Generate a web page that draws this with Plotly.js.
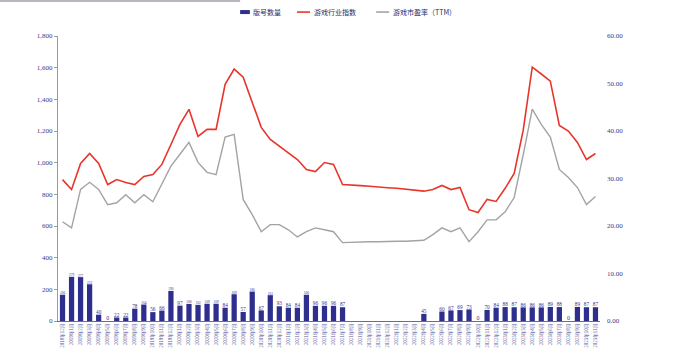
<!DOCTYPE html>
<html>
<head>
<meta charset="utf-8">
<script src="https://cdn.plot.ly/plotly-3.0.1.min.js"></script>
<style>
  html, body { margin: 0; padding: 0; background: #ffffff; }
  #chart { width: 677px; height: 351px; }
</style>
</head>
<body>
<div id="chart"></div>
<script>
// Monthly categories, 2018年12月 … 2023年11月
const months = [
  "2018年12月",
  "2019年1月","2019年2月","2019年3月","2019年4月","2019年5月","2019年6月",
  "2019年7月","2019年8月","2019年9月","2019年10月","2019年11月","2019年12月",
  "2020年1月","2020年2月","2020年3月","2020年4月","2020年5月","2020年6月",
  "2020年7月","2020年8月","2020年9月","2020年10月","2020年11月","2020年12月",
  "2021年1月","2021年2月","2021年3月","2021年4月","2021年5月","2021年6月",
  "2021年7月","2021年8月","2021年9月","2021年10月","2021年11月","2021年12月",
  "2022年1月","2022年2月","2022年3月","2022年4月","2022年5月","2022年6月",
  "2022年7月","2022年8月","2022年9月","2022年10月","2022年11月","2022年12月",
  "2023年1月","2023年2月","2023年3月","2023年4月","2023年5月","2023年6月",
  "2023年7月","2023年8月","2023年9月","2023年10月","2023年11月"
];

// 版号数量 (left axis); null = no approvals published that month
const licenses = [
  166,
  279, 277, 232, 40, 0, 22,
  22, 78, 104, 56, 66, 190,
  97, 108, 102, 109, 109, 84,
  169, 57, 186, 67, 163, 93,
  84, 84, 166, 96, 96, 96,
  87, null, null, null, null, null,
  null, null, null, 45, null, 60,
  67, 69, 73, 0, 70, 84,
  88, 87, 86, 86, 86, 89,
  88, 0, 89, 87, 87
];

// 游戏行业指数 (left axis)
const gameIndex = [
  893,
  830, 995, 1058, 995, 862, 893,
  875, 862, 913, 925, 989, 1115,
  1242, 1337, 1166, 1210, 1210, 1495,
  1591, 1540, 1380, 1223, 1147, 1103,
  1065, 1020, 957, 944, 1001, 989,
  862, 860, 855, 851, 845, 842,
  838, 832, 826, 820, 830, 856,
  830, 843, 703, 685, 768, 755,
  838, 932, 1205, 1603, 1560, 1515,
  1235, 1200, 1128, 1020, 1058
];

// 游戏市盈率（TTM） (right axis)
const peTTM = [
  20.9,
  19.6, 27.7, 29.2, 27.7, 24.5, 24.9,
  26.6, 24.9, 26.6, 25.1, 28.7, 32.6,
  35.1, 37.6, 33.4, 31.3, 30.8, 38.7,
  39.3, 25.6, 22.4, 18.8, 20.3, 20.3,
  19.2, 17.7, 18.8, 19.6, 19.2, 18.8,
  16.5, 16.6, 16.7, 16.7, 16.7, 16.8,
  16.8, 16.8, 16.9, 17.0, 18.2, 19.6,
  18.8, 19.6, 16.7, 18.8, 21.3, 21.3,
  23.0, 26.0, 35.0, 44.6, 41.4, 38.7,
  31.9, 30.2, 28.1, 24.5, 26.2
];

const seriesNames = ["版号数量", "游戏行业指数", "游戏市盈率（TTM）"];
const seriesColors = ["#2e2e8e", "#e8352b", "#a3a3a3"];

const navy = "#34348c";
const tickFont = { family: "Liberation Serif, DejaVu Serif, serif", size: 7, color: "#3a3a8c" };

const traces = [
  {
    type: "bar",
    name: seriesNames[0],
    x: months,
    y: licenses,
    marker: { color: seriesColors[0] },
    text: licenses.map(v => v === null ? "" : String(v)),
    textposition: "outside",
    textfont: { family: "Liberation Serif, serif", size: 6, color: navy },
    cliponaxis: false,
    yaxis: "y"
  },
  {
    type: "scatter",
    mode: "lines",
    name: seriesNames[1],
    x: months,
    y: gameIndex,
    line: { color: seriesColors[1], width: 1.6 },
    yaxis: "y"
  },
  {
    type: "scatter",
    mode: "lines",
    name: seriesNames[2],
    x: months,
    y: peTTM,
    line: { color: seriesColors[2], width: 1.4 },
    yaxis: "y2"
  }
];

// Compact legend row above the plot: small swatch + label per series
const legendY = 1.084;
const legendItems = [
  { x0: 0.336, x1: 0.354, kind: "bar" },
  { x0: 0.441, x1: 0.465, kind: "line" },
  { x0: 0.587, x1: 0.611, kind: "line" }
];
const legendShapes = legendItems.map((it, i) => it.kind === "bar"
  ? { type: "rect", xref: "paper", yref: "paper", x0: it.x0, x1: it.x1,
      y0: legendY - 0.007, y1: legendY + 0.007, fillcolor: seriesColors[i], line: { width: 0 } }
  : { type: "line", xref: "paper", yref: "paper", x0: it.x0, x1: it.x1,
      y0: legendY, y1: legendY, line: { color: seriesColors[i], width: 1.6 } });
const legendLabels = legendItems.map((it, i) => ({
  xref: "paper", yref: "paper", x: it.x1 + 0.003, y: legendY,
  xanchor: "left", yanchor: "middle", showarrow: false,
  text: seriesNames[i],
  font: { family: "Noto Sans CJK SC, sans-serif", size: 7, color: "#2a2a66" }
}));

const layout = {
  width: 677,
  height: 351,
  margin: { l: 58, r: 77, t: 36, b: 30 },
  paper_bgcolor: "#ffffff",
  plot_bgcolor: "#ffffff",
  showlegend: false,
  bargap: 0.42,
  xaxis: {
    type: "category",
    tickangle: -90,
    tickfont: { family: "Noto Sans CJK SC, sans-serif", size: 4.5, color: "#5a5a9a" },
    showline: true,
    linecolor: "#6f6f6f",
    linewidth: 1,
    ticks: "",
    showgrid: false,
    zeroline: false,
    automargin: false
  },
  yaxis: {
    range: [0, 1800],
    dtick: 200,
    tickformat: ",",
    tickfont: tickFont,
    showline: true,
    linecolor: "#9a9a9a",
    linewidth: 1,
    ticks: "outside",
    ticklen: 3,
    tickcolor: "#9a9a9a",
    showgrid: false,
    zeroline: false,
    automargin: false
  },
  yaxis2: {
    overlaying: "y",
    side: "right",
    range: [0, 60],
    dtick: 10,
    tickformat: ".2f",
    tickfont: tickFont,
    showline: false,
    ticks: "",
    ticklabelstandoff: 6,
    showgrid: false,
    zeroline: false,
    automargin: false
  },
  shapes: [
    { type: "line", xref: "paper", yref: "paper", x0: -0.107, x1: 0.336, y0: 1.123, y1: 1.123,
      line: { color: "#b8b8c0", width: 2 } }
  ].concat(legendShapes),
  annotations: legendLabels
};

Plotly.newPlot("chart", traces, layout, { displayModeBar: false, staticPlot: true });
</script>
</body>
</html>
